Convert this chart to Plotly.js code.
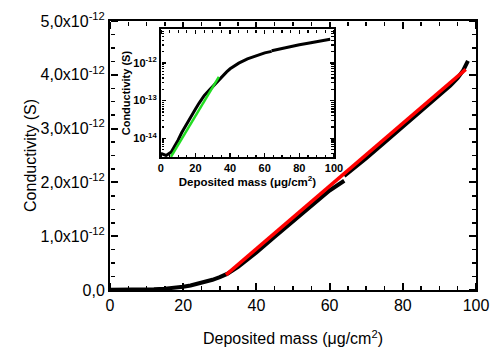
<!DOCTYPE html>
<html><head><meta charset="utf-8">
<script src="https://cdn.plot.ly/plotly-3.0.1.min.js"></script>
<style>html,body{margin:0;padding:0;background:#fff}#c{width:490px;height:349px}</style>
</head><body><div id="c"></div>
<script>
// Measured conductivity, first run (µg/cm², S)
const massA = [0, 3, 6, 8, 10, 12, 15, 17, 20, 22, 25, 28, 30, 32, 35, 38, 40, 45, 50, 55, 60, 64];
const condA = [4.0e-15, 3.5e-15, 4.3e-15, 6.0e-15, 9.0e-15, 1.4e-14, 2.5e-14, 3.6e-14, 6.0e-14, 8.5e-14, 1.35e-13, 1.9e-13, 2.4e-13, 3.0e-13, 4.3e-13, 5.8e-13, 7.0e-13, 9.9e-13, 1.28e-12, 1.57e-12, 1.85e-12, 2.03e-12];
// Measured conductivity, second part
const massB = [64, 67, 70, 75, 80, 85, 90, 93, 95, 96.5, 97.8];
const condB = [2.12e-12, 2.28e-12, 2.45e-12, 2.74e-12, 3.03e-12, 3.32e-12, 3.62e-12, 3.80e-12, 3.94e-12, 4.08e-12, 4.26e-12];
// Linear fit (red) and exponential fit (green)
const fitRedMass = [31.7, 97.2];
const fitRedCond = [0.28e-12, 4.10e-12];
const fitGreenMass = [5.8, 33.5];
const fitGreenCond = [3.2e-15, 4.3e-13];
// Tick labels
const xTickVals = [0, 20, 40, 60, 80, 100];
const yTickVals = [0, 1e-12, 2e-12, 3e-12, 4e-12, 5e-12];
const yTickText = ['0,0', '1,0x10<sup>-12</sup>', '2,0x10<sup>-12</sup>', '3,0x10<sup>-12</sup>', '4,0x10<sup>-12</sup>', '5,0x10<sup>-12</sup>'];
const insetYTickVals = [1e-14, 1e-13, 1e-12];
const insetYTickText = ['10<sup>-14</sup>', '10<sup>-13</sup>', '10<sup>-12</sup>'];

const F = 'Liberation Sans, Arial, sans-serif';
const K = '#000';
const traces = [
  {x: massA, y: condA, mode: 'lines', line: {color: K, width: 4}, xaxis: 'x', yaxis: 'y'},
  {x: massB, y: condB, mode: 'lines', line: {color: K, width: 4}, xaxis: 'x', yaxis: 'y'},
  {x: fitRedMass, y: fitRedCond, mode: 'lines', line: {color: '#ff0000', width: 3.5}, xaxis: 'x', yaxis: 'y'},
  {x: massA, y: condA, mode: 'lines', line: {color: K, width: 3}, xaxis: 'x2', yaxis: 'y2'},
  {x: massB, y: condB, mode: 'lines', line: {color: K, width: 3}, xaxis: 'x2', yaxis: 'y2'},
  {x: fitGreenMass, y: fitGreenCond, mode: 'lines', line: {color: '#22dd22', width: 2.5}, xaxis: 'x2', yaxis: 'y2'}
];
const yIn0 = 0.494, yIn1 = 0.970, xIn0 = 0.139, xIn1 = 0.612;
const layout = {
  width: 490, height: 349, showlegend: false,
  margin: {l: 110, r: 14, t: 21, b: 59},
  font: {family: F, color: K},
  xaxis: {
    domain: [0, 1], range: [0, 100], tickvals: xTickVals,
    showgrid: false, zeroline: false, showline: true, linecolor: K, linewidth: 2, mirror: true, ticks: '',
    tickfont: {size: 16, family: F},
    title: {text: 'Deposited mass (\u03bcg/cm<sup>2</sup>)', font: {size: 16, family: F}, standoff: 20}
  },
  yaxis: {
    domain: [0, 1], range: [0, 5e-12], tickvals: yTickVals, ticktext: yTickText,
    showgrid: false, zeroline: false, showline: true, linecolor: K, linewidth: 2, mirror: true, ticks: '',
    tickfont: {size: 16, family: F},
    title: {text: 'Conductivity (S)', font: {size: 16, family: F}, standoff: 0}
  },
  xaxis2: {
    domain: [xIn0, xIn1], anchor: 'y2', range: [0, 100], tickvals: xTickVals,
    showgrid: false, zeroline: false, showline: true, linecolor: K, linewidth: 2, mirror: true, ticks: '',
    tickfont: {size: 11, family: F, weight: 'bold'},
    title: {text: 'Deposited mass (\u03bcg/cm<sup>2</sup>)', font: {size: 11.5, family: F, weight: 'bold'}, standoff: 2}
  },
  yaxis2: {
    domain: [yIn0, yIn1], anchor: 'x2', type: 'log', range: [-14.5, -11.1],
    tickvals: insetYTickVals, ticktext: insetYTickText,
    showgrid: false, zeroline: false, showline: true, linecolor: K, linewidth: 2, mirror: true, ticks: '',
    tickfont: {size: 11, family: F, weight: 'bold'},
    title: {text: 'Conductivity (S)', font: {size: 11, family: F, weight: 'bold'}, standoff: 0}
  }
};
// inward ticks: free overlay axes whose outside ticks point into the frame
let n = 3;
function addTicks(dir, over, counter, pos, side, range, dtick, len, w, type) {
  const key = dir + 'axis' + n, id = dir + n;
  const ax = {overlaying: over, anchor: 'free', position: pos, side: side, range: range, dtick: dtick,
    showticklabels: false, showgrid: false, zeroline: false,
    ticks: 'outside', ticklen: len, tickwidth: w, tickcolor: K};
  if (type) ax.type = type;
  layout[key] = ax;
  traces.push(dir === 'x'
    ? {x: massA, y: condA, xaxis: id, yaxis: counter, mode: 'lines', line: {width: 0}, hoverinfo: 'skip'}
    : {x: massA, y: condA, xaxis: counter, yaxis: id, mode: 'lines', line: {width: 0}, hoverinfo: 'skip'});
  n++;
}
[[0, 'top'], [1, 'bottom']].forEach(([p, s]) => {
  addTicks('x', 'x', 'y', p, s, [0, 100], 20, 7, 2);
  addTicks('x', 'x', 'y', p, s, [0, 100], 5, 4, 1.5);
  addTicks('x', 'x2', 'y2', p ? yIn1 : yIn0, s, [0, 100], 20, 4, 1.5);
  addTicks('x', 'x2', 'y2', p ? yIn1 : yIn0, s, [0, 100], 5, 2.5, 1.2);
});
n = 3;
[[0, 'right'], [1, 'left']].forEach(([p, s]) => {
  addTicks('y', 'y', 'x', p, s, [0, 5e-12], 1e-12, 7, 2);
  addTicks('y', 'y', 'x', p, s, [0, 5e-12], 0.25e-12, 4, 1.5);
  addTicks('y', 'y2', 'x2', p ? xIn1 : xIn0, s, [-14.5, -11.1], 1, 4, 1.5, 'log');
  addTicks('y', 'y2', 'x2', p ? xIn1 : xIn0, s, [-14.5, -11.1], 'D1', 2.5, 1.2, 'log');
});
Plotly.newPlot('c', traces, layout, {staticPlot: true, displayModeBar: false});
</script></body></html>
